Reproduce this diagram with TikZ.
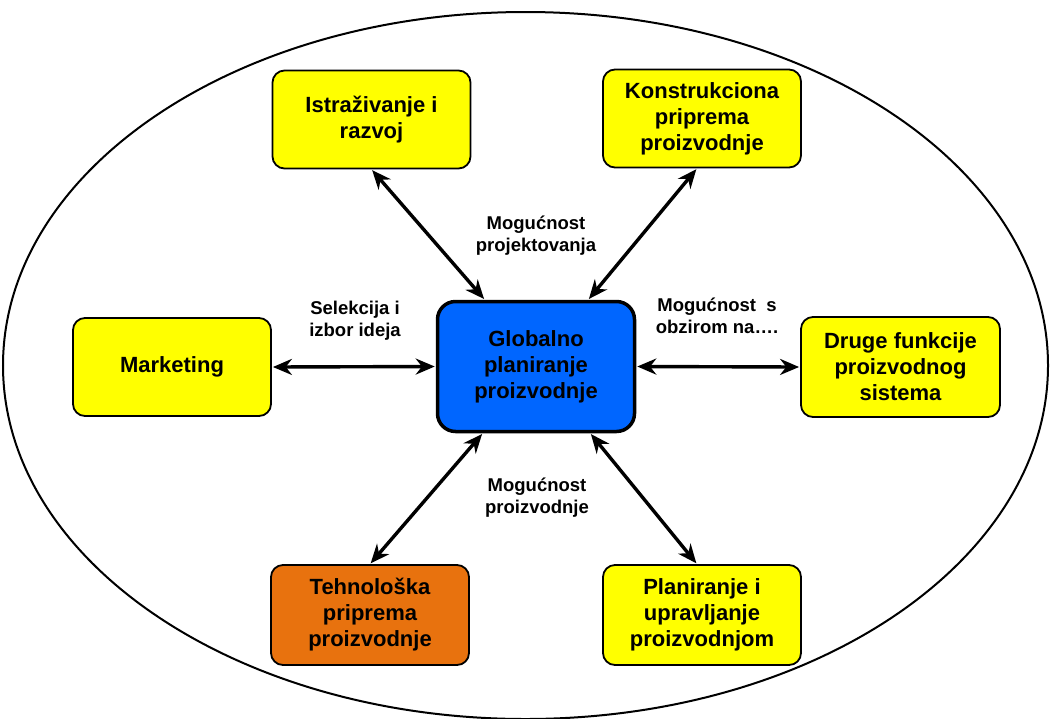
\documentclass[tikz,border=0pt]{standalone}
\usepackage{fontspec}
\setmainfont{Liberation Sans}
\usetikzlibrary{arrows.meta,calc}
\definecolor{boxyellow}{RGB}{255,255,0}
\definecolor{boxblue}{RGB}{0,102,255}
\definecolor{boxorange}{RGB}{232,114,14}
\tikzset{
  fbox/.style={draw=black, line width=1.8pt, rounded corners=12pt, fill=boxyellow,
    minimum width=198pt, minimum height=98pt, align=center, inner sep=2pt,
    font=\fontsize{22}{26}\selectfont\bfseries},
  mainbox/.style={fbox, fill=boxblue, line width=3.5pt, rounded corners=18pt,
    minimum width=197pt, minimum height=130pt},
  lbl/.style={align=center, inner sep=0pt, font=\fontsize{18.5}{22}\selectfont\bfseries},
  dbl/.style={line width=3.4pt, {Stealth[length=19pt,width=16pt]}-{Stealth[length=19pt,width=16pt]}, shorten <=1pt, shorten >=1pt}
}
\begin{document}
\begin{tikzpicture}[x=1pt,y=-1pt]
\useasboundingbox (0,0) rectangle (1051,718);
\draw[line width=2pt] (525.5,365.5) ellipse [x radius=522.5pt, y radius=353.5pt];

\node[mainbox] (glob) at (536,366.5) {Globalno\\planiranje\\proizvodnje};
\node[fbox] (istr) at (371.5,119.5) {Istraživanje i\\razvoj};
\node[fbox] (konst) at (702,118.5) {Konstrukciona\\priprema\\proizvodnje};
\node[fbox] (mark) at (172,367) {Marketing};
\node[fbox, minimum width=199pt, minimum height=100pt] (druge) at (900.5,367) {Druge funkcije\\proizvodnog\\sistema};
\node[fbox, fill=boxorange, minimum height=100pt] (tehn) at (370,615) {Tehnološka\\priprema\\proizvodnje};
\node[fbox, minimum height=100pt] (plan) at (702,615) {Planiranje i\\upravljanje\\proizvodnjom};

\node[lbl] (l1) at (536,236) {Mogućnost\\projektovanja};
\node[lbl] (l2) at (355,321) {Selekcija i\\izbor ideja};
\node[lbl] (l3) at (717,316) {Mogućnost\ \ s\\obzirom na….};
\node[lbl] (l4) at (537,498) {Mogućnost\\proizvodnje};

\draw[dbl] (istr.south) -- ([xshift=49pt]glob.north west);
\draw[dbl] ([xshift=-5pt]konst.south) -- ([xshift=-48pt]glob.north east);
\draw[dbl] (mark.east) -- (glob.west);
\draw[dbl] (druge.west) -- (glob.east);
\draw[dbl] (tehn.north) -- ([xshift=47pt]glob.south west);
\draw[dbl] ([xshift=-5pt]plan.north) -- ([xshift=-46pt]glob.south east);
\end{tikzpicture}
\end{document}
